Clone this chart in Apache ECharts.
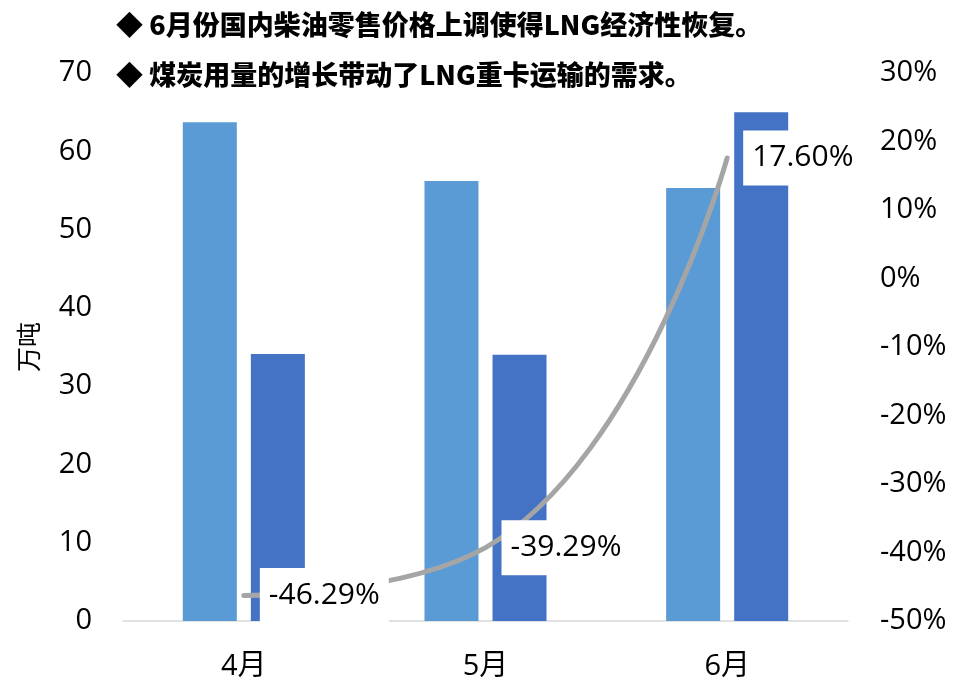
<!DOCTYPE html>
<html>
<head>
<meta charset="utf-8">
<script src="https://cdn.jsdelivr.net/npm/echarts@6/dist/echarts.min.js"></script>
<style>
  html, body { margin: 0; padding: 0; background: #fff; }
  #chart { width: 956px; height: 684px; }
</style>
</head>
<body>
<div id="chart"></div>
<script>
// Monthly LNG volume (万吨) and growth rate (%)
const months = ['4月', '5月', '6月'];
const volumeA = [63.7, 56.2, 55.3];
const volumeB = [34.1, 34.0, 65.0];
const growthRate = [-46.29, -39.29, 17.60];
const headlines = [
  '◆ 6月份国内柴油零售价格上调使得LNG经济性恢复。',
  '◆ 煤炭用量的增长带动了LNG重卡运输的需求。'
];

const FONT = '"Open Sans", "Noto Sans", "Noto Sans CJK SC", sans-serif';
const chart = echarts.init(document.getElementById('chart'), null, { renderer: 'canvas' });

chart.setOption({
  backgroundColor: '#ffffff',
  animation: false,
  textStyle: { fontFamily: FONT },
  graphic: headlines.map((t, i) => ({
    type: 'text',
    left: 116,
    top: 11 + i * 50,
    style: {
      text: t,
      fontSize: 27,
      fontWeight: 900,
      fontFamily: '"Noto Sans CJK SC", sans-serif',
      fill: '#000000'
    },
    z: 10
  })),
  grid: { left: 123, right: 108, top: 73, bottom: 63 },
  xAxis: {
    type: 'category',
    data: months,
    axisLine: { show: true, lineStyle: { color: '#D9D9D9', width: 1.5 } },
    axisTick: { show: false },
    axisLabel: { fontSize: 29, color: '#000', margin: 31, fontFamily: FONT }
  },
  yAxis: [
    {
      type: 'value',
      min: 0, max: 70, interval: 10,
      name: '万吨',
      nameLocation: 'middle',
      nameRotate: 90,
      nameGap: 80,
      nameTextStyle: { fontSize: 25, color: '#000', fontFamily: FONT },
      axisLine: { show: false },
      axisTick: { show: false },
      splitLine: { show: false },
      axisLabel: { fontSize: 29, color: '#000', margin: 31, fontFamily: FONT }
    },
    {
      type: 'value',
      min: -50, max: 30, interval: 10,
      position: 'right',
      axisLine: { show: false },
      axisTick: { show: false },
      splitLine: { show: false },
      axisLabel: { fontSize: 29, color: '#000', margin: 32, formatter: '{value}%', fontFamily: FONT }
    }
  ],
  series: [
    {
      type: 'bar',
      data: volumeA,
      yAxisIndex: 0,
      barWidth: 54,
      barGap: '26%',
      itemStyle: { color: '#5B9BD5' },
      z: 2
    },
    {
      type: 'bar',
      data: volumeB,
      yAxisIndex: 0,
      barWidth: 54,
      barGap: '26%',
      itemStyle: { color: '#4472C4' },
      z: 2
    },
    {
      type: 'line',
      data: growthRate,
      yAxisIndex: 1,
      smooth: 0.5,
      symbol: 'circle',
      symbolSize: 2,
      showSymbol: true,
      itemStyle: { color: '#A5A5A5' },
      lineStyle: { color: '#A5A5A5', width: 5, cap: 'round' },
      label: {
        show: true,
        position: 'right',
        distance: 15,
        formatter: p => Number(p.value).toFixed(2) + '%',
        fontSize: 30,
        color: '#000',
        fontFamily: FONT,
        backgroundColor: '#ffffff',
        padding: [13, 9, 12, 9]
      },
      labelLayout: { hideOverlap: false },
      z: 5
    }
  ]
});
</script>
</body>
</html>
